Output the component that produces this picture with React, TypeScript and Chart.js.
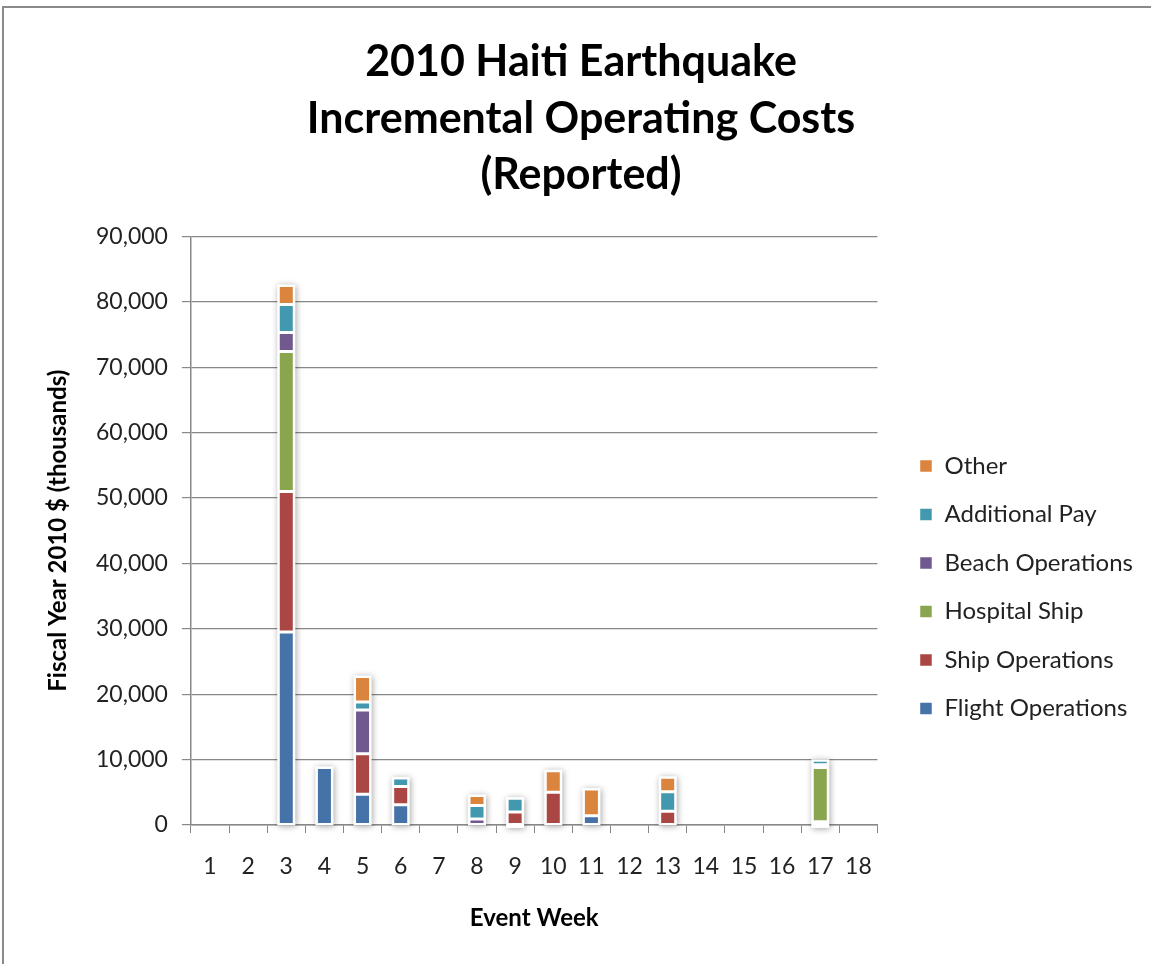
import React, { useEffect, useRef } from "react";
import { Chart, registerables } from "chart.js";

Chart.register(...registerables);

const weeks = ["1","2","3","4","5","6","7","8","9","10","11","12","13","14","15","16","17","18"];
const flightOps = [0, 0, 29500, 8800, 4700, 3100, 0, 0, 0, 0, 1400, 0, 0, 0, 0, 0, 500, 0];
const shipOps = [0, 0, 21500, 0, 6200, 2800, 0, 0, 2000, 5000, 0, 0, 2100, 0, 0, 0, 0, 0];
const hospitalShip = [0, 0, 21400, 0, 0, 0, 0, 0, 0, 0, 0, 0, 0, 0, 0, 0, 8300, 0];
const beachOps = [0, 0, 2900, 0, 6700, 0, 0, 900, 0, 0, 0, 0, 0, 0, 0, 0, 400, 0];
const additionalPay = [0, 0, 4300, 0, 1200, 1300, 0, 2100, 2100, 0, 0, 0, 3000, 0, 0, 0, 700, 0];
const other = [0, 0, 2900, 0, 3900, 0, 0, 1500, -300, 3300, 4100, 0, 2200, 0, 0, 0, -300, 0];

const titleLines = ["2010 Haiti Earthquake", "Incremental Operating Costs", "(Reported)"];

const FONT = "Lato, 'Open Sans', sans-serif";

const shadowPlugin = {
  id: "barShadow",
  beforeDatasetsDraw(chart: any) {
    const ctx = chart.ctx;
    const n = chart.data.labels.length;
    ctx.save();
    ctx.shadowColor = "rgba(0,0,0,0.35)";
    ctx.shadowBlur = 6;
    ctx.shadowOffsetX = 1;
    ctx.shadowOffsetY = 1;
    ctx.fillStyle = "#ffffff";
    for (let i = 0; i < n; i++) {
      let top = Infinity, bottom = -Infinity, left = 0, right = 0;
      chart.data.datasets.forEach((ds: any, d: number) => {
        const v = ds.data[i];
        if (!v) return;
        const el = chart.getDatasetMeta(d).data[i];
        if (!el) return;
        const p = el.getProps(["x", "y", "base", "width"], true);
        top = Math.min(top, p.y, p.base);
        bottom = Math.max(bottom, p.y, p.base);
        left = p.x - p.width / 2;
        right = p.x + p.width / 2;
      });
      if (top < bottom) ctx.fillRect(left - 1, top - 1, right - left + 2, bottom - top + 2);
    }
    ctx.restore();
  },
};

export default function App() {
  const ref = useRef<HTMLCanvasElement | null>(null);

  useEffect(() => {
    if (!ref.current) return;
    const mk = (label: string, data: number[], color: string) => ({
      label,
      data,
      backgroundColor: color,
      borderColor: "#ffffff",
      borderWidth: 1.5,
      borderSkipped: false,
      categoryPercentage: 1,
      barPercentage: 0.42,
    });
    const chart = new Chart(ref.current, {
      type: "bar",
      data: {
        labels: weeks,
        datasets: [
          mk("Flight Operations", flightOps, "#4572A7"),
          mk("Ship Operations", shipOps, "#AA4643"),
          mk("Hospital Ship", hospitalShip, "#89A54E"),
          mk("Beach Operations", beachOps, "#71588F"),
          mk("Additional Pay", additionalPay, "#4198AF"),
          mk("Other", other, "#DB843D"),
        ],
      },
      plugins: [shadowPlugin],
      options: {
        animation: false,
        responsive: false,
        devicePixelRatio: 1,
        layout: { padding: { left: 19, right: 8, top: 0, bottom: 27.6 } },
        plugins: {
          tooltip: { enabled: false },
          title: {
            display: true,
            text: titleLines,
            color: "#000",
            font: { family: FONT, size: 43, weight: "bold", lineHeight: 56.5 / 43 },
            padding: { top: 34, bottom: 33 },
          },
          legend: {
            position: "right",
            align: "center",
            reverse: true,
            maxWidth: 400,
            title: { display: true, text: " ", font: { size: 20, lineHeight: 1 }, padding: { top: 0, bottom: 218 } },
            labels: {
              boxWidth: 13,
              boxHeight: 13,
              padding: 24.5,
              color: "#222",
              font: { family: FONT, size: 24 },
            },
          },
        },
        scales: {
          x: {
            stacked: true,
            grid: { display: true, drawOnChartArea: false, drawTicks: true, tickLength: 8, color: "#888", offset: true },
            border: { display: true, color: "#888", width: 1.5 },
            ticks: { color: "#222", padding: 20, font: { family: FONT, size: 23 }, maxRotation: 0 },
            title: {
              display: true,
              text: "Event Week",
              color: "#000",
              font: { family: FONT, size: 24, weight: "bold" },
              padding: { top: 3, bottom: 4 },
            },
          },
          y: {
            stacked: true,
            min: 0,
            max: 90000,
            grid: { color: "#888", lineWidth: 1.2, tickLength: 9, drawTicks: true },
            border: { display: true, color: "#888", width: 1.5 },
            ticks: { stepSize: 10000, color: "#222", padding: 14, font: { family: FONT, size: 23 } },
            title: {
              display: true,
              text: "Fiscal Year 2010 $ (thousands)",
              color: "#000",
              font: { family: FONT, size: 24, weight: "bold" },
              padding: { top: 24.6, bottom: 9.6 },
            },
          },
          y2: {
            position: "right",
            display: true,
            grid: { display: false, drawTicks: false },
            border: { display: false },
            ticks: { display: false },
            afterFit: (s: any) => { s.width = 17.5; },
          },
        },
      } as any,
    });
    return () => chart.destroy();
  }, []);

  return (
    <div style={{ position: "fixed", left: 0, top: 0, width: 1151, height: 964, overflow: "hidden", background: "#fff" }}>
      <div style={{ position: "absolute", left: 2, top: 6, width: 1300, height: 1300, border: "2px solid #8a8a8a", boxSizing: "border-box" }} />
      <canvas ref={ref} width={1151} height={964} style={{ position: "absolute", left: 0, top: 0, display: "block" }} />
    </div>
  );
}
